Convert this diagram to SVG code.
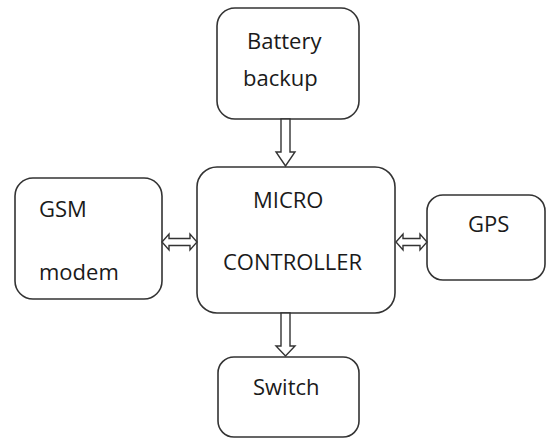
<svg xmlns="http://www.w3.org/2000/svg" width="547" height="440" viewBox="0 0 547 440">
  <style>
    .box { fill: #ffffff; stroke: #333333; stroke-width: 1.6; }
    .arrow { fill: #ffffff; stroke: #333333; stroke-width: 1.4; stroke-linejoin: miter; }
    .label { font-family: "Open Sans", "Liberation Sans", sans-serif; font-size: 22px; fill: #1a1a1a; }
  </style>
  <rect width="547" height="440" fill="#ffffff"/>

  <g id="battery">
    <rect class="box" x="217" y="8" width="142" height="111" rx="18"/>
    <text class="label" x="247" y="49">Battery</text>
    <text class="label" x="243" y="86">backup</text>
  </g>

  <g id="microcontroller">
    <rect class="box" x="197" y="167" width="198" height="146" rx="20"/>
    <text class="label" x="253" y="208">MICRO</text>
    <text class="label" x="223" y="270">CONTROLLER</text>
  </g>

  <g id="gsm">
    <rect class="box" x="15" y="178" width="147" height="121" rx="18"/>
    <text class="label" x="39" y="217">GSM</text>
    <text class="label" x="39" y="280">modem</text>
  </g>

  <g id="gps">
    <rect class="box" x="427" y="195" width="118" height="85" rx="16"/>
    <text class="label" x="468" y="232">GPS</text>
  </g>

  <g id="switch">
    <rect class="box" x="218" y="357" width="141" height="80" rx="16"/>
    <text class="label" x="253" y="395">Switch</text>
  </g>

  <g id="connectors">
    <!-- battery to microcontroller -->
    <polygon class="arrow" points="281,119 290,119 290,152 295,152 285.5,166 276,152 281,152"/>
    <!-- microcontroller to switch -->
    <polygon class="arrow" points="281,313 290,313 290,346 295,346 285.5,356 276,346 281,346"/>
    <!-- GSM modem and microcontroller -->
    <polygon class="arrow" points="162,242 169,234 169,238.5 190,238.5 190,234 197,242 190,250 190,245.5 169,245.5 169,250"/>
    <!-- microcontroller and GPS -->
    <polygon class="arrow" points="396,242 403,234 403,238.5 420,238.5 420,234 427,242 420,250 420,245.5 403,245.5 403,250"/>
  </g>
</svg>
